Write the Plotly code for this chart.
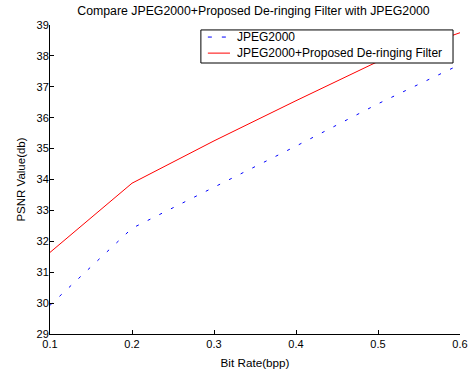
import plotly.graph_objects as go

bit_rate = [0.1, 0.2, 0.3, 0.4, 0.5, 0.6]
jpeg2000 = [29.93, 32.42, 33.75, 35.08, 36.45, 37.72]
proposed = [31.64, 33.88, 35.25, 36.55, 37.82, 38.75]
x_ticks = [0.1, 0.2, 0.3, 0.4, 0.5, 0.6]
y_ticks = [29, 30, 31, 32, 33, 34, 35, 36, 37, 38, 39]
series_names = ["JPEG2000", "JPEG2000+Proposed De-ringing Filter"]
series_colors = ["#0000ff", "#ff0000"]
series_dash = ["3px,10px", "solid"]

fam = "Liberation Sans, Arial, sans-serif"

fig = go.Figure()
for name, vals, col, dash in zip(series_names, [jpeg2000, proposed], series_colors, series_dash):
    fig.add_trace(go.Scatter(x=bit_rate, y=vals, mode="lines", name=name,
                             line=dict(color=col, width=1, dash=dash), showlegend=False))

# MATLAB-style legend box (drawn in paper coordinates)
box = dict(x0=0.368, x1=0.983, y0=0.877, y1=0.984)
fig.add_shape(type="rect", xref="paper", yref="paper", **box,
              line=dict(color="black", width=1), fillcolor="white", layer="above")
row_y = [0.961, 0.909]
for name, col, dash, yy in zip(series_names, series_colors, series_dash, row_y):
    fig.add_shape(type="line", xref="paper", yref="paper", x0=0.385, x1=0.439, y0=yy, y1=yy,
                  line=dict(color=col, width=1, dash=("4px,10px" if dash != "solid" else "solid")),
                  layer="above")
    fig.add_annotation(x=0.452, y=yy, xref="paper", yref="paper", text=name, showarrow=False,
                       xanchor="left", yanchor="middle",
                       font=dict(family=fam, size=12, color="#000000"))

fig.update_layout(
    width=476, height=370,
    margin=dict(l=50, r=16, t=25, b=36, autoexpand=False),
    paper_bgcolor="white", plot_bgcolor="white",
    font=dict(family=fam, size=11, color="#000000"),
    title=dict(text="Compare JPEG2000+Proposed De-ringing Filter with JPEG2000",
               x=253.5 / 476, xanchor="center", xref="container", yref="container",
               y=1 - 10.5 / 370, yanchor="middle", automargin=False,
               font=dict(family=fam, size=12.3, color="#000000")),
    showlegend=False,
)
fig.update_xaxes(range=[0.1, 0.6], tickvals=x_ticks, ticktext=[f"{v:.1f}" for v in x_ticks],
                 showgrid=False, zeroline=False, showline=True, linecolor="black", linewidth=1,
                 ticks="inside", ticklen=4, tickcolor="black", automargin=False,
                 title=dict(text="Bit Rate(bpp)", standoff=9, font=dict(family=fam, size=11.7)))
fig.update_yaxes(range=[29, 39], tickvals=y_ticks,
                 showgrid=False, zeroline=False, showline=True, linecolor="black", linewidth=1,
                 ticks="inside", ticklen=4, tickcolor="black", automargin=False,
                 ticklabelstandoff=-2,
                 title=dict(text="PSNR Value(db)", standoff=8, font=dict(family=fam, size=11.5)))

fig.write_html("out.html", config={"displayModeBar": False},
               post_script="document.body.style.margin='0';")
